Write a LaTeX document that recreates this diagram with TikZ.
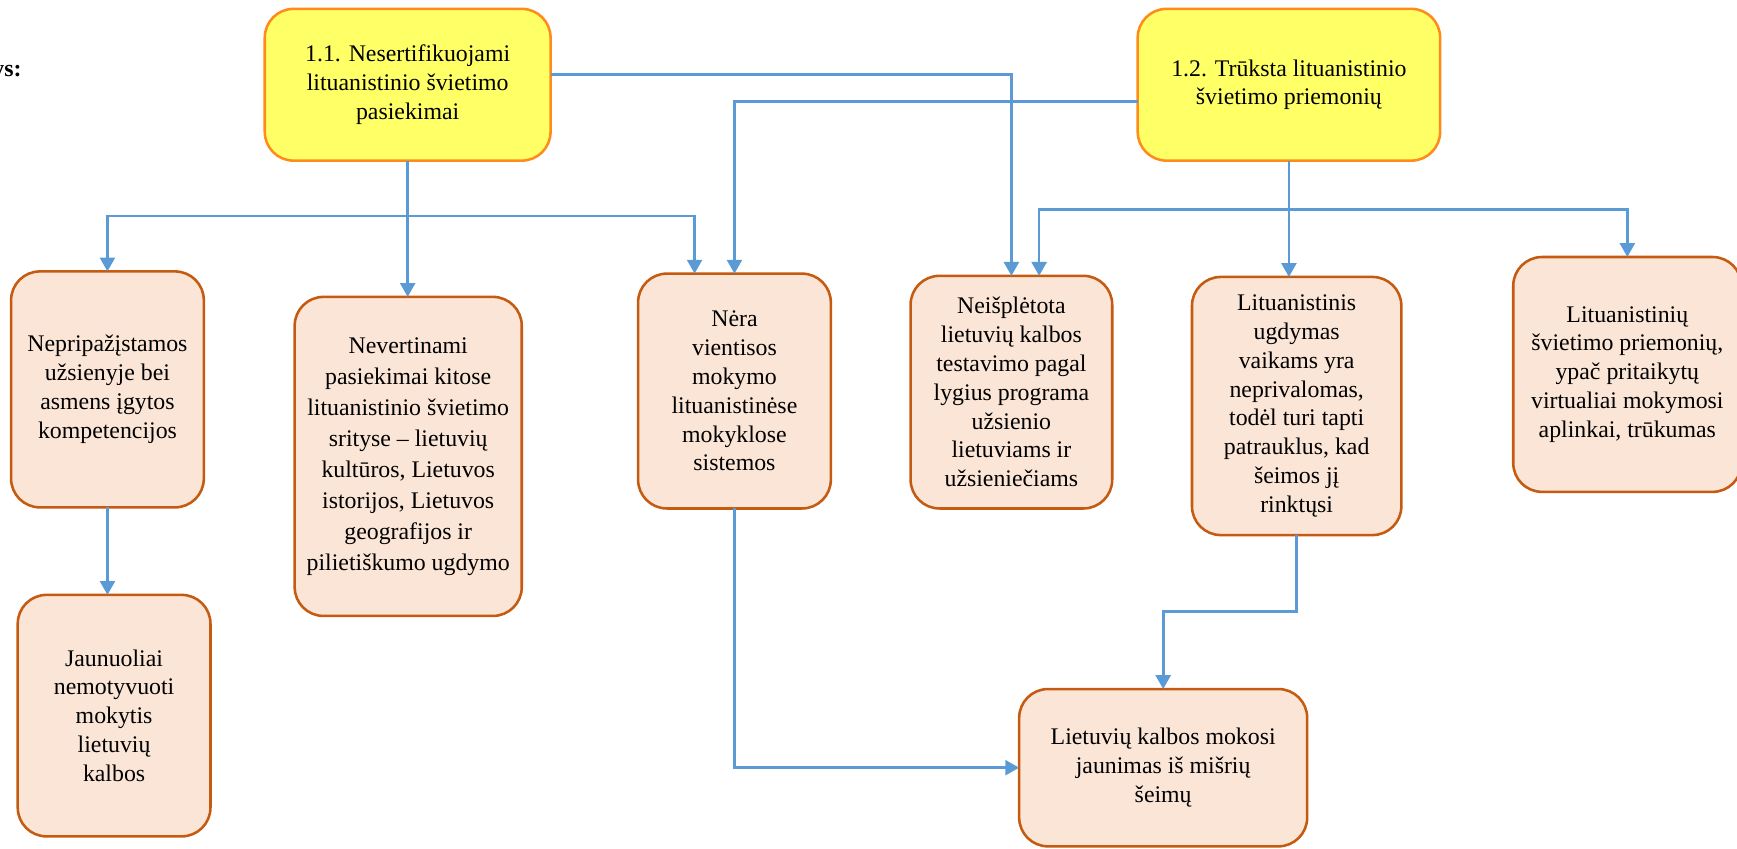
\documentclass[tikz,border=0pt]{standalone}
\usepackage{fontspec}
\setmainfont{Liberation Serif}
\usetikzlibrary{arrows.meta}
\definecolor{connblue}{HTML}{5B9BD5}
\definecolor{boxedge}{HTML}{C55A11}
\definecolor{boxfill}{HTML}{FBE5D6}
\definecolor{topfill}{HTML}{FFFF66}
\definecolor{topedge}{HTML}{FF8C1A}
\tikzset{
  basebox/.style={rectangle, rounded corners=26pt, line width=2.3pt, align=center,
    inner sep=0pt, outer sep=0pt, text=black, font=\fontsize{21.5}{26}\selectfont},
  topbox/.style={basebox, draw=topedge, fill=topfill},
  subbox/.style={basebox, draw=boxedge, fill=boxfill},
  conn/.style={draw=connblue, line width=2.4pt, -{Triangle[length=12.5pt,width=13.5pt]}},
  plain/.style={draw=connblue, line width=2.4pt}
}
\begin{document}
\begin{tikzpicture}[x=1pt,y=-1pt]
\useasboundingbox (0,0) rectangle (1568,766);

\node[anchor=east, font=\fontsize{21.5}{26}\selectfont\bfseries] (lbl) at (23,66) {ys:};

\node[topbox, minimum width=258pt, minimum height=137pt] (T1) at (368,76.5)
  {1.1. Nesertifikuojami\\lituanistinio švietimo\\pasiekimai};
\node[topbox, minimum width=273pt, minimum height=137pt] (T2) at (1163.5,76.5)
  {1.2. Trūksta lituanistinio\\švietimo priemonių};

\node[subbox, minimum width=174pt, minimum height=213pt] (A) at (97,351.5)
  {Nepripažįstamos\\užsienyje bei\\asmens įgytos\\kompetencijos};
\node[subbox, minimum width=174pt, minimum height=218pt] (B) at (103,646)
  {Jaunuoliai\\nemotyvuoti\\mokytis\\lietuvių\\kalbos};
\node[subbox, minimum width=205pt, minimum height=288pt, font=\fontsize{21.5}{28}\selectfont] (C) at (368.5,412)
  {Nevertinami\\pasiekimai kitose\\lituanistinio švietimo\\srityse – lietuvių\\kultūros, Lietuvos\\istorijos, Lietuvos\\geografijos ir\\pilietiškumo ugdymo};
\node[subbox, minimum width=174pt, minimum height=212pt] (D) at (663,353)
  {Nėra\\vientisos\\mokymo\\lituanistinėse\\mokyklose\\sistemos};
\node[subbox, minimum width=182pt, minimum height=210pt] (E) at (913,354)
  {Neišplėtota\\lietuvių kalbos\\testavimo pagal\\lygius programa\\užsienio\\lietuviams ir\\užsieniečiams};
\node[subbox, minimum width=189pt, minimum height=233pt] (F) at (1170.5,366.5)
  {Lituanistinis\\ugdymas\\vaikams yra\\neprivalomas,\\todėl turi tapti\\patrauklus, kad\\šeimos jį\\rinktųsi};
\node[subbox, minimum width=206pt, minimum height=212pt] (G) at (1469,338)
  {Lituanistinių\\švietimo priemonių,\\ypač pritaikytų\\virtualiai mokymosi\\aplinkai, trūkumas};
\node[subbox, minimum width=260pt, minimum height=142pt] (H) at (1050,693)
  {Lietuvių kalbos mokosi\\jaunimas iš mišrių\\šeimų};

% helper coordinates
\coordinate (j1) at (368,195);
\coordinate (j2) at (1164,189);
\coordinate (dIn) at ([xshift=-36pt]D.north);
\coordinate (eIn) at ([xshift=25pt]E.north);
\coordinate (t1r) at ([yshift=9.5pt]T1.east);
\coordinate (t2l) at ([yshift=-15pt]T2.west);

% from T1
\draw[conn] (T1.south) -- (T1.south |- C.north);
\draw[conn] (j1) -| (A.north);
\draw[conn] (j1) -| (dIn);
\draw[conn] (t1r) -| (E.north);

% from T2
\draw[conn] (t2l) -| (D.north);
\draw[conn] (T2.south) -- (T2.south |- F.north);
\draw[conn] (j2) -| (G.north);
\draw[conn] (j2) -| (eIn);

% lower connectors
\draw[conn] (A.south) -- (A.south |- B.north);
\draw[conn] (D.south) |- (H.west);
\draw[conn] (F.south) -- ++(0,69) -| (H.north);
\end{tikzpicture}
\end{document}
